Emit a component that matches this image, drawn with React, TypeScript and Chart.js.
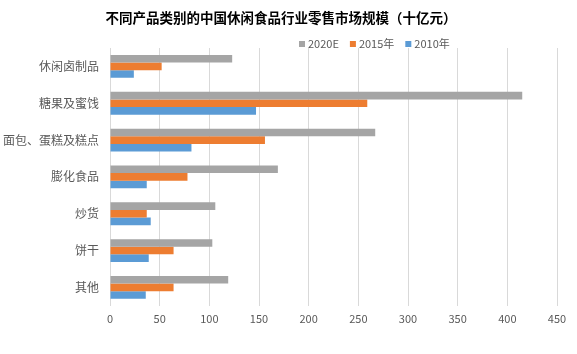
import React, { useEffect, useRef } from "react";
import { Chart, registerables } from "chart.js";

Chart.register(...registerables);

const categories = ["休闲卤制品", "糖果及蜜饯", "面包、蛋糕及糕点", "膨化食品", "炒货", "饼干", "其他"];
const series2020E = [123, 415, 267, 169, 106, 103, 119];
const series2015 = [52, 259, 156, 78, 37, 64, 64];
const series2010 = [24, 147, 82, 37, 41, 39, 36];
const seriesLabels = ["2020E", "2015年", "2010年"];
const seriesColors = ["#A5A5A5", "#ED7D31", "#5B9BD5"];
const titleText = "不同产品类别的中国休闲食品行业零售市场规模（十亿元）";

const FONT = '"Noto Sans CJK SC", "Noto Sans", sans-serif';

const overlayPlugin = {
  id: "overlay",
  afterDraw(chart: any) {
    const ctx = chart.ctx;
    ctx.save();
    // title
    ctx.font = `bold 13.5px ${FONT}`;
    ctx.fillStyle = "#000000";
    ctx.textAlign = "center";
    ctx.textBaseline = "middle";
    ctx.fillText(titleText, 281, 18);
    // legend
    ctx.font = `11px ${FONT}`;
    ctx.textAlign = "left";
    let x = 299;
    const y = 44;
    chart.data.datasets.forEach((ds: any) => {
      ctx.fillStyle = ds.backgroundColor;
      ctx.fillRect(x, y - 3, 6, 6);
      x += 9;
      ctx.fillStyle = "#595959";
      ctx.fillText(ds.label, x, y);
      x += ctx.measureText(ds.label).width + 11;
    });
    ctx.restore();
  },
};

export default function App() {
  const ref = useRef<HTMLCanvasElement>(null);
  useEffect(() => {
    if (!ref.current) return;
    const chart = new Chart(ref.current, {
      type: "bar",
      data: {
        labels: categories,
        datasets: [series2020E, series2015, series2010].map((d, i) => ({
          label: seriesLabels[i],
          data: d,
          backgroundColor: seriesColors[i],
          borderWidth: 0,
          categoryPercentage: 0.62,
          barPercentage: 1,
        })),
      },
      options: {
        indexAxis: "y",
        animation: false,
        responsive: false,
        maintainAspectRatio: false,
        layout: { padding: { top: 48, left: 0, right: 20, bottom: 23 } },
        plugins: {
          legend: { display: false },
          title: { display: false },
          tooltip: { enabled: false },
        },
        scales: {
          x: {
            min: 0,
            max: 450,
            ticks: { stepSize: 50, color: "#595959", font: { size: 11, family: FONT }, padding: 6 },
            grid: { color: "#D9D9D9", drawTicks: false },
            border: { display: false },
          },
          y: {
            afterFit: (s: any) => {
              s.width = 110;
            },
            ticks: { color: "#595959", font: { size: 12, family: FONT }, padding: 11 },
            grid: { display: false, drawTicks: false },
            border: { display: false },
          },
        },
      },
      plugins: [overlayPlugin],
    } as any);
    return () => chart.destroy();
  }, []);
  return (
    <div style={{ position: "fixed", left: 0, top: 0, width: 577, height: 354, background: "#fff" }}>
      <canvas ref={ref} width={577} height={354} />
    </div>
  );
}
